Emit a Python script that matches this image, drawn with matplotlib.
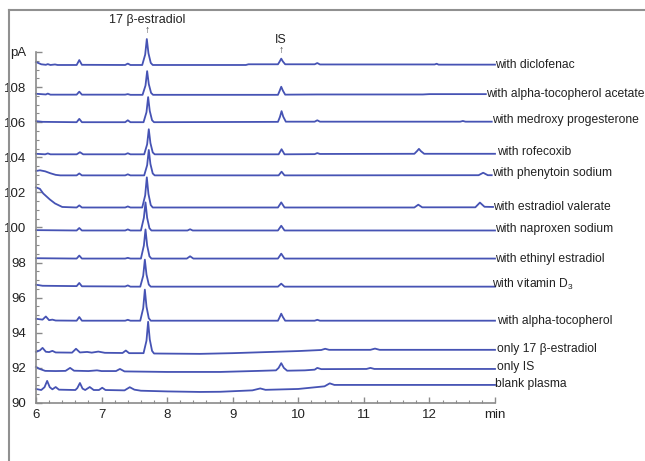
import matplotlib
matplotlib.use("Agg")
import matplotlib.pyplot as plt
from matplotlib.lines import Line2D
from matplotlib.ticker import MultipleLocator

plt.rcParams['font.family'] = ['Liberation Sans', 'DejaVu Sans']

# chromatogram traces, top to bottom: (time in min, signal in pA)
diclofenac = [(6.0, 109.43), (6.08, 109.30), (6.15, 109.27), (6.18, 109.31), (6.22, 109.26),
              (6.29, 109.29), (6.33, 109.26), (6.62, 109.26), (6.66, 109.54), (6.70, 109.27),
              (7.36, 109.26), (7.40, 109.34), (7.44, 109.26), (7.62, 109.26), (7.665, 109.85),
              (7.69, 110.74), (7.715, 109.93), (7.75, 109.38), (7.78, 109.26), (9.20, 109.26),
              (9.24, 109.30), (9.69, 109.30), (9.715, 109.45), (9.74, 109.62), (9.765, 109.46),
              (9.80, 109.30), (10.25, 109.30), (10.29, 109.37), (10.33, 109.29), (12.08, 109.29),
              (12.11, 109.33), (12.14, 109.28), (13.0, 109.28)]
acetate = [(6.0, 107.62), (6.15, 107.58), (6.18, 107.63), (6.22, 107.57), (6.62, 107.57),
           (6.66, 107.74), (6.70, 107.57), (7.36, 107.57), (7.40, 107.60), (7.44, 107.56),
           (7.625, 107.56), (7.67, 108.09), (7.695, 108.91), (7.72, 108.17), (7.755, 107.67),
           (7.785, 107.56), (9.69, 107.56), (9.715, 107.78), (9.74, 108.02), (9.765, 107.80),
           (9.80, 107.57), (10.29, 107.58), (11.90, 107.58), (12.0, 107.60), (12.86, 107.60)]
medroxy = [(6.0, 106.06), (6.10, 106.02), (6.62, 106.0), (6.66, 106.19), (6.70, 106.0),
           (7.36, 106.0), (7.40, 106.11), (7.44, 106.0), (7.64, 106.0), (7.685, 106.57),
           (7.71, 107.43), (7.735, 106.64), (7.77, 106.11), (7.80, 106.0), (9.69, 106.02),
           (9.72, 106.30), (9.745, 106.63), (9.77, 106.32), (9.81, 106.03), (10.25, 106.03),
           (10.29, 106.11), (10.33, 106.03), (12.47, 106.03), (12.51, 106.07), (12.55, 106.03),
           (12.95, 106.03)]
rofecoxib = [(6.0, 104.20), (6.14, 104.17), (6.18, 104.22), (6.22, 104.17), (6.62, 104.17),
             (6.67, 104.29), (6.72, 104.17), (7.36, 104.17), (7.40, 104.23), (7.44, 104.17),
             (7.65, 104.17), (7.695, 104.74), (7.72, 105.60), (7.745, 104.81), (7.78, 104.28),
             (7.81, 104.17), (9.70, 104.17), (9.745, 104.46), (9.79, 104.17), (10.25, 104.18),
             (10.29, 104.24), (10.33, 104.19), (11.77, 104.20), (11.81, 104.35), (11.84, 104.48),
             (11.87, 104.35), (11.92, 104.20), (13.0, 104.20)]
phenytoin = [(6.0, 103.22), (6.06, 103.26), (6.14, 103.20), (6.22, 103.09), (6.30, 103.0),
             (6.37, 102.97), (6.62, 102.97), (6.66, 103.08), (6.70, 102.97), (7.36, 102.97),
             (7.40, 103.03), (7.44, 102.97), (7.65, 102.97), (7.695, 103.55), (7.72, 104.42),
             (7.745, 103.62), (7.78, 103.08), (7.81, 102.97), (9.70, 102.97), (9.745, 103.18),
             (9.79, 102.97), (12.75, 102.98), (12.82, 103.12), (12.89, 102.98), (12.95, 102.98)]
valerate = [(6.0, 102.29), (6.06, 102.20), (6.11, 101.94), (6.21, 101.60), (6.29, 101.37),
            (6.40, 101.17), (6.62, 101.14), (6.66, 101.26), (6.70, 101.14), (7.36, 101.14),
            (7.40, 101.20), (7.44, 101.14), (7.62, 101.14), (7.665, 101.83), (7.69, 102.86),
            (7.715, 101.91), (7.75, 101.28), (7.78, 101.14), (9.69, 101.14), (9.74, 101.43),
            (9.79, 101.14), (11.77, 101.14), (11.83, 101.30), (11.89, 101.15), (12.70, 101.15),
            (12.77, 101.42), (12.84, 101.18), (12.97, 101.17)]
naproxen = [(6.0, 99.85), (6.62, 99.83), (6.66, 99.97), (6.70, 99.83), (7.36, 99.83),
            (7.40, 99.89), (7.44, 99.83), (7.60, 99.83), (7.645, 100.55), (7.67, 101.43),
            (7.695, 100.55), (7.73, 99.96), (7.76, 99.83), (8.31, 99.83), (8.35, 99.90),
            (8.39, 99.83), (9.69, 99.83), (9.74, 100.10), (9.79, 99.83), (13.0, 99.83)]
ethinyl = [(6.0, 98.25), (6.62, 98.23), (6.66, 98.40), (6.70, 98.23), (7.36, 98.23),
           (7.40, 98.27), (7.44, 98.23), (7.60, 98.23), (7.645, 98.97), (7.67, 99.89),
           (7.695, 98.98), (7.73, 98.36), (7.76, 98.23), (8.30, 98.23), (8.35, 98.36),
           (8.40, 98.23), (9.69, 98.23), (9.74, 98.51), (9.79, 98.23), (13.0, 98.23)]
vitamin_d3 = [(6.0, 96.74), (6.10, 96.68), (6.62, 96.66), (6.66, 96.84), (6.70, 96.65),
              (7.36, 96.64), (7.40, 96.70), (7.44, 96.63), (7.59, 96.63), (7.635, 97.25),
              (7.66, 98.17), (7.685, 97.32), (7.72, 96.75), (7.75, 96.63), (9.69, 96.63),
              (9.74, 96.80), (9.79, 96.63), (13.0, 96.63)]
tocopherol = [(6.0, 94.80), (6.10, 94.75), (6.15, 94.93), (6.20, 94.72), (6.25, 94.75),
              (6.30, 94.70), (6.62, 94.69), (6.66, 94.90), (6.70, 94.69), (7.36, 94.69),
              (7.40, 94.74), (7.44, 94.69), (7.59, 94.69), (7.635, 95.40), (7.66, 96.46),
              (7.685, 95.49), (7.72, 94.83), (7.75, 94.69), (9.69, 94.69), (9.715, 94.88),
              (9.74, 95.09), (9.765, 94.90), (9.80, 94.69), (10.25, 94.69), (10.29, 94.74),
              (10.33, 94.69), (13.0, 94.69)]
only_estradiol = [(6.0, 92.91), (6.06, 93.0), (6.10, 93.14), (6.15, 92.92), (6.20, 92.90),
                  (6.25, 92.97), (6.30, 92.88), (6.55, 92.87), (6.61, 93.09), (6.67, 92.88),
                  (6.78, 92.91), (6.85, 92.87), (6.95, 92.93), (7.05, 92.86), (7.32, 92.85),
                  (7.37, 92.99), (7.42, 92.84), (7.64, 92.84), (7.685, 93.55), (7.71, 94.63),
                  (7.735, 93.62), (7.77, 92.97), (7.80, 92.82), (8.50, 92.80), (9.0, 92.84),
                  (9.50, 92.90), (10.0, 92.96), (10.35, 93.02), (10.41, 93.09), (10.47, 93.03),
                  (11.10, 93.03), (11.17, 93.10), (11.24, 93.03), (13.0, 93.03)]
only_is = [(6.0, 92.06), (6.05, 91.95), (6.14, 91.83), (6.30, 91.82), (6.45, 91.83),
           (6.52, 92.0), (6.58, 91.84), (6.80, 91.82), (6.93, 91.86), (7.0, 91.82),
           (7.22, 91.82), (7.28, 91.94), (7.35, 91.80), (8.0, 91.77), (8.81, 91.77),
           (9.40, 91.83), (9.66, 91.86), (9.70, 92.0), (9.74, 92.27), (9.78, 92.0),
           (9.83, 91.84), (10.10, 91.86), (10.25, 91.90), (10.29, 92.0), (10.35, 91.93),
           (11.04, 91.94), (11.10, 92.0), (11.16, 91.94), (13.0, 91.94)]
blank = [(6.0, 90.80), (6.08, 90.74), (6.13, 90.90), (6.17, 91.26), (6.21, 90.90),
         (6.25, 90.78), (6.30, 90.91), (6.35, 90.76), (6.60, 90.74), (6.63, 90.85),
         (6.67, 91.14), (6.71, 90.82), (6.75, 90.74), (6.82, 90.91), (6.88, 90.74),
         (6.96, 90.74), (7.01, 90.87), (7.06, 90.74), (7.35, 90.72), (7.43, 90.90),
         (7.50, 90.76), (7.60, 90.70), (8.0, 90.66), (8.50, 90.63), (8.81, 90.64),
         (9.30, 90.72), (9.42, 90.83), (9.50, 90.75), (10.0, 90.80), (10.40, 90.95),
         (10.48, 91.12), (10.55, 91.03), (11.0, 91.03), (13.0, 91.03)]

traces = [diclofenac, acetate, medroxy, rofecoxib, phenytoin, valerate, naproxen,
          ethinyl, vitamin_d3, tocopherol, only_estradiol, only_is, blank]
labels = ["with diclofenac", "with alpha-tocopherol acetate", "with medroxy progesterone",
          "with rofecoxib", "with phenytoin sodium", "with estradiol valerate",
          "with naproxen sodium", "with ethinyl estradiol", r"with vitamin $\mathregular{D_3}$",
          "with alpha-tocopherol", "only 17 β-estradiol", "only IS", "blank plasma"]
label_x = [13.0, 12.86, 12.95, 13.03, 12.95, 12.97, 13.0, 13.0, 12.95, 13.03, 13.03, 13.03, 13.0]
label_y = [109.26, 107.6, 106.11, 104.29, 103.09, 101.14, 99.89, 98.23, 96.74, 94.69,
           93.09, 92.06, 91.09]

x_ticks = [6, 7, 8, 9, 10, 11, 12, 13]
x_ticklabels = ["6", "7", "8", "9", "10", "11", "12", "min"]
y_ticks = [90, 92, 94, 96, 98, 100, 102, 104, 106, 108, 110]
y_ticklabels = ["90", "92", "94", "96", "98", "100", "102", "104", "106", "108", "pA"]

line_color = "#4653b4"
axis_color = "#8a8a8a"

fig = plt.figure(figsize=(6.45, 4.61), dpi=100)
ax = fig.add_axes([36 / 645, 58 / 461, 459 / 645, 351 / 461])

for tr in traces:
    t = [p[0] for p in tr]
    s = [p[1] for p in tr]
    ax.plot(t, s, color=line_color, lw=1.3, clip_on=False, solid_joinstyle="round")

for lx, ly, lab in zip(label_x, label_y, labels):
    ax.text(lx, ly, lab, fontsize=8.7, va="center", ha="left", color="#222222", clip_on=False)

# peak annotations
ax.text(7.69, 111.8, "17 β-estradiol", fontsize=9, ha="center", va="center", color="#222222")
ax.text(7.69, 111.25, "↑", fontsize=7.5, ha="center", va="center", color="#444444")
ax.text(9.74, 110.68, "IS", fontsize=9, ha="center", va="center", color="#222222")
ax.text(9.74, 110.1, "↑", fontsize=7.5, ha="center", va="center", color="#444444")

ax.set_xlim(6, 13)
ax.set_ylim(90, 110)
ax.set_xticks(x_ticks)
ax.set_xticklabels(x_ticklabels)
ax.set_yticks(y_ticks)
ax.set_yticklabels(y_ticklabels)
ax.xaxis.set_minor_locator(MultipleLocator(0.2))
ax.yaxis.set_minor_locator(MultipleLocator(0.5))
ax.tick_params(axis="both", which="major", direction="in", length=4, width=1,
               color=axis_color, labelsize=9.5, labelcolor="#222222")
ax.tick_params(axis="y", which="major", pad=7)
ax.tick_params(axis="x", which="major", pad=4)
ax.tick_params(axis="both", which="minor", direction="in", length=2, width=0.8, color=axis_color)

for side in ["top", "right"]:
    ax.spines[side].set_visible(False)
for side in ["left", "bottom"]:
    ax.spines[side].set_color(axis_color)
    ax.spines[side].set_linewidth(1.2)
ax.patch.set_alpha(0)

# outer frame of the original figure (top and left edges)
fig.add_artist(Line2D([9 / 645, 1], [1 - 10 / 461, 1 - 10 / 461], color="#909090", lw=1.5))
fig.add_artist(Line2D([9 / 645, 9 / 645], [0, 1 - 10 / 461], color="#909090", lw=1.5))

fig.savefig("out.png", dpi=100)
plt.close(fig)
